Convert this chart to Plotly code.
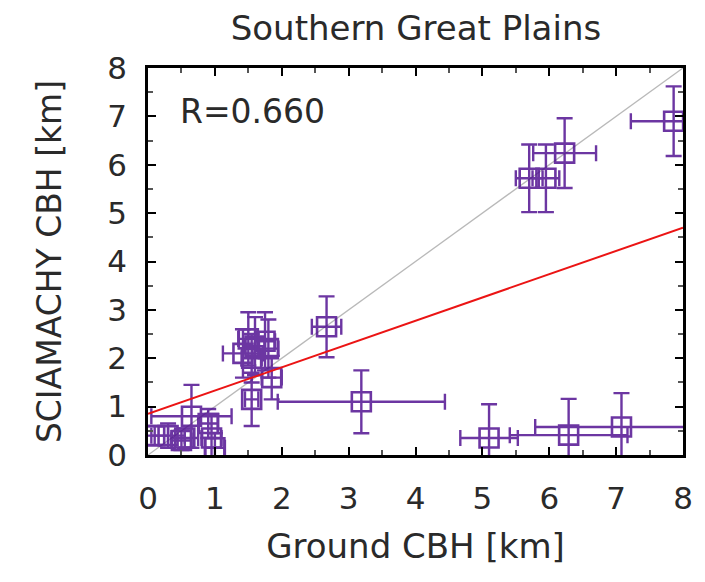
import plotly.graph_objects as go

# Data
ground_cbh = [0.10, 0.30, 0.50, 0.55, 0.65, 0.90, 0.95, 1.00,
              1.42, 1.50, 1.55, 1.60, 1.75, 1.80, 1.85, 1.55,
              2.67, 3.19, 5.10, 5.70, 5.95, 6.23, 6.29, 7.08, 7.86]
sciamachy_cbh = [0.40, 0.40, 0.30, 0.35, 0.80, 0.65, 0.35, 0.15,
                 2.10, 2.40, 2.00, 2.25, 2.35, 2.20, 1.60, 1.15,
                 2.65, 1.10, 0.35, 5.72, 5.72, 6.24, 0.41, 0.58, 6.90]
ground_err = [0.20, 0.25, 0.15, 0.20, 0.60, 0.15, 0.15, 0.15,
              0.30, 0.15, 0.15, 0.15, 0.15, 0.15, 0.15, 0.10,
              0.22, 1.25, 0.43, 0.20, 0.20, 0.47, 0.88, 1.29, 0.64]
sciamachy_err = [0.20, 0.25, 0.20, 0.20, 0.65, 0.30, 0.50, 0.30,
                 0.50, 0.55, 0.50, 0.60, 0.60, 0.60, 0.45, 0.55,
                 0.63, 0.65, 0.70, 0.70, 0.70, 0.72, 0.75, 0.70, 0.72]

fit_x = [0.0, 8.0]
fit_y = [0.85, 4.70]
one_to_one = [0.0, 8.0]
r_label = "R=0.660"

purple = "rgb(72,5,140)"
fnt = "DejaVu Sans"
txt = "#2a2a2a"

fig = go.Figure()
fig.add_trace(go.Scatter(x=one_to_one, y=one_to_one, mode="lines",
                         line=dict(color="rgb(185,185,185)", width=1.3),
                         showlegend=False, hoverinfo="skip"))
fig.add_trace(go.Scatter(
    x=ground_cbh, y=sciamachy_cbh, mode="markers",
    marker=dict(symbol="square-open", size=19, color=purple,
                line=dict(width=2.6, color=purple)),
    error_x=dict(type="data", array=ground_err, color=purple, thickness=2.4, width=8),
    error_y=dict(type="data", array=sciamachy_err, color=purple, thickness=2.4, width=8),
    opacity=0.8, showlegend=False))
fig.add_trace(go.Scatter(x=fit_x, y=fit_y, mode="lines",
                         line=dict(color="rgb(235,20,20)", width=2),
                         showlegend=False))

axis_common = dict(range=[0, 8], dtick=1, ticks="inside", ticklen=8, tickwidth=1.5,
                   tickcolor="black", showline=True, linecolor="black", linewidth=2.5,
                   mirror="allticks", showgrid=False, zeroline=False,
                   tickfont=dict(family=fnt, size=31, color=txt),
                   minor=dict(dtick=0.5, ticks="inside", ticklen=5, tickcolor="#555",
                              tickwidth=1.5, showgrid=False))

fig.update_layout(
    width=705, height=582,
    margin=dict(l=148, r=18, t=68, b=127),
    paper_bgcolor="white", plot_bgcolor="white",
    title=dict(text="Southern Great Plains", x=0.59, xanchor="center", y=0.952,
               yanchor="middle", font=dict(family=fnt, size=34, color=txt)),
    xaxis=dict(**axis_common, ticklabelstandoff=14,
               title=dict(text="Ground CBH [km]", standoff=20,
                          font=dict(family=fnt, size=34, color=txt))),
    yaxis=dict(**axis_common, ticklabelstandoff=12,
               title=dict(text="SCIAMACHY CBH [km]", standoff=36,
                          font=dict(family=fnt, size=33, color=txt))),
    annotations=[dict(text=r_label, x=0.45, y=7.1, xref="x", yref="y",
                      xanchor="left", yanchor="middle", showarrow=False,
                      font=dict(family=fnt, size=33, color=txt))],
)

fig.write_html("out.html")
